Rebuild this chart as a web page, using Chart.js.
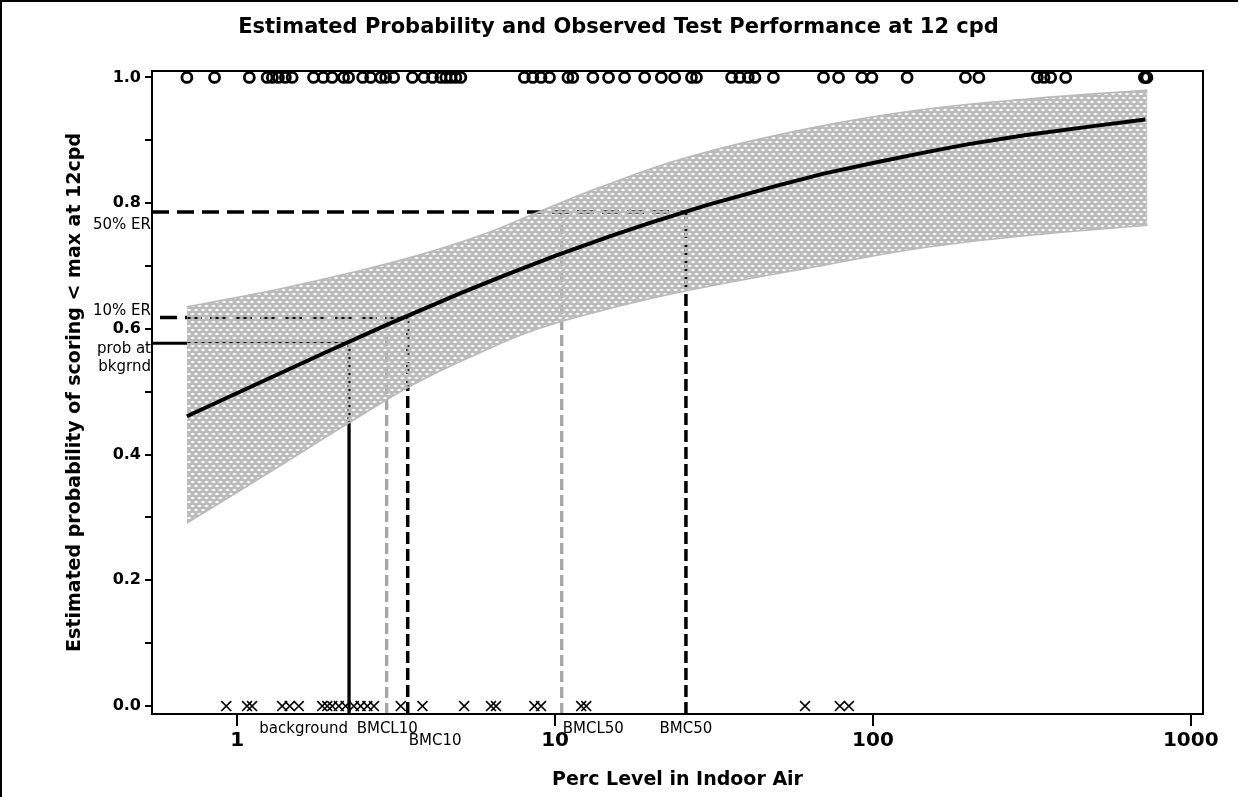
<!DOCTYPE html>
<html><head><meta charset="utf-8">
<script src="https://cdn.jsdelivr.net/npm/chart.js@4.4.0/dist/chart.umd.min.js"></script>
<style>html,body{margin:0;padding:0;background:#fff;}</style>
</head><body>
<canvas id="c" width="1239" height="797" style="display:block;width:1239px;height:797px"></canvas>
<script>
// ---------- text ----------
const TITLE = 'Estimated Probability and Observed Test Performance at 12 cpd';
const X_TITLE = 'Perc Level in Indoor Air';
const Y_TITLE = 'Estimated probability of scoring < max at 12cpd';

// ---------- ticks ----------
const xTickValues = [1, 10, 100, 1000];
const xTickLabels = ['1', '10', '100', '1000'];
const yMajorTicks = [0, 0.2, 0.4, 0.6, 0.8, 1.0];
const yTickLabels = ['0.0', '0.2', '0.4', '0.6', '0.8', '1.0'];
const yMinorTicks = [0.1, 0.3, 0.5, 0.7, 0.9];

// ---------- fitted curve ----------
const curveX = [0.694, 1, 1.5, 2, 3, 5, 7, 10, 15, 20, 30, 50, 70, 100, 150, 200, 300, 500, 720];
const curveP = [0.461, 0.498, 0.539, 0.568, 0.608, 0.656, 0.686, 0.716, 0.748, 0.769, 0.797, 0.828, 0.847, 0.864, 0.882, 0.894, 0.908, 0.923, 0.933];

// ---------- confidence band ----------
const bandX = [0.694, 1.37, 2.22, 3.59, 5.84, 8.57, 13.97, 26.1, 66.1, 143.8, 312.8, 731];
const bandUpper = [0.635, 0.664, 0.688, 0.715, 0.749, 0.783, 0.826, 0.873, 0.921, 0.949, 0.966, 0.980];
const bandLower = [0.291, 0.383, 0.449, 0.512, 0.563, 0.598, 0.629, 0.661, 0.699, 0.729, 0.749, 0.765];

// ---------- observed test outcomes ----------
const scoredBelowMaxX = [0.694, 0.848, 1.091, 1.241, 1.289, 1.347, 1.417, 1.488, 1.737, 1.864, 1.989, 2.160, 2.240, 2.480, 2.628, 2.826, 2.930, 3.105, 3.557, 3.862, 4.115, 4.369, 4.531, 4.698, 4.872, 5.052, 8.00, 8.51, 9.03, 9.60, 10.97, 11.37, 13.15, 14.73, 16.54, 19.13, 21.59, 23.78, 26.85, 27.85, 35.92, 38.14, 40.54, 42.54, 48.62, 69.91, 77.96, 92.33, 99.27, 128.1, 195.5, 215.5, 329.2, 345.6, 362.5, 404.2, 715, 722, 728];
const scoredMaxX = [0.923, 1.073, 1.113, 1.384, 1.462, 1.561, 1.850, 1.919, 1.989, 2.087, 2.191, 2.327, 2.443, 2.566, 2.691, 3.268, 3.825, 5.175, 6.284, 6.516, 8.605, 9.031, 12.08, 12.53, 61.15, 78.7, 84.0];

// ---------- benchmark values ----------
const BKG = 2.247, BMCL10 = 2.951, BMC10 = 3.437, BMCL50 = 10.49, BMC50 = 25.8;
const P_BKG = 0.577, P_ER10 = 0.618, P_ER50 = 0.786;
const X_MIN = 0.539, X_MAX = 1093, Y_MIN = -0.0127, Y_MAX = 1.0103;

const FONT = '"DejaVu Sans", "Liberation Sans", Arial, sans-serif';
Chart.defaults.font.family = FONT;
Chart.defaults.color = '#000';

const canvas = document.getElementById('c');
const ctx0 = canvas.getContext('2d');

function makeHatch() {
  const c = document.createElement('canvas');
  c.width = 7; c.height = 8;
  const g = c.getContext('2d');
  g.fillStyle = '#bababa';
  g.fillRect(0, 0, 7, 8);
  g.globalCompositeOperation = 'destination-out';
  const dia = (cx, cy) => {
    g.beginPath();
    g.moveTo(cx - 2.6, cy); g.lineTo(cx, cy - 1.3);
    g.lineTo(cx + 2.6, cy); g.lineTo(cx, cy + 1.3);
    g.closePath(); g.fill();
  };
  dia(3.5, 2); dia(0, 6); dia(7, 6);
  return ctx0.createPattern(c, 'repeat');
}
const hatch = makeHatch();

const pts = (xs, ys) => xs.map((x, i) => ({x, y: Array.isArray(ys) ? ys[i] : ys}));
const seg = (x1, y1, x2, y2) => [{x: x1, y: y1}, {x: x2, y: y2}];

const refLine = (data, color, width, dash, dashOffset) => ({
  type: 'line', data, borderColor: color, borderWidth: width,
  borderDash: dash || [], borderDashOffset: dashOffset || 0,
  pointRadius: 0, fill: false, tension: 0, order: 3, borderCapStyle: 'butt'
});

const GREY = '#a6a6a6';

const datasets = [
  // markers (top)
  {type: 'line', data: pts(scoredBelowMaxX, 1), showLine: false, pointStyle: 'circle',
   pointRadius: 5, pointBorderWidth: 2.8, pointBorderColor: '#000', pointBackgroundColor: 'rgba(0,0,0,0)',
   order: 0, clip: false},
  {type: 'line', data: pts(scoredMaxX, 0), showLine: false, pointStyle: 'crossRot',
   pointRadius: 7, pointBorderWidth: 1.6, pointBorderColor: '#000', order: 0, clip: false},
  // fitted curve
  {type: 'line', data: pts(curveX, curveP), borderColor: '#000', borderWidth: 4, pointRadius: 0,
   tension: 0, fill: false, order: 1},
  // band
  {type: 'line', data: pts(bandX, bandUpper), borderColor: '#bababa', borderWidth: 1.6, pointRadius: 0,
   tension: 0.4, fill: '+1', backgroundColor: hatch, order: 2},
  {type: 'line', data: pts(bandX, bandLower), borderColor: '#bababa', borderWidth: 1.6, pointRadius: 0,
   tension: 0.4, fill: false, order: 2},
  // reference lines (bottom)
  refLine(seg(X_MIN, P_BKG, BKG, P_BKG), '#000', 3),
  refLine(seg(BKG, Y_MIN, BKG, P_BKG), '#000', 3.3),
  refLine(seg(X_MIN, P_ER10, BMC10, P_ER10), '#000', 3.5, [17, 8], 17),
  refLine(seg(BMCL10, Y_MIN, BMCL10, P_ER10), GREY, 3.3, [11, 5]),
  refLine(seg(BMC10, Y_MIN, BMC10, P_ER10), '#000', 3.5, [12, 5]),
  refLine(seg(X_MIN, P_ER50, BMC50, P_ER50), '#000', 3.5, [17, 8]),
  refLine(seg(BMCL50, Y_MIN, BMCL50, P_ER50), GREY, 3.3, [11, 5]),
  refLine(seg(BMC50, Y_MIN, BMC50, P_ER50), '#000', 3.5, [12, 5])
];

const annot = {
  id: 'annot',
  afterDraw(chart) {
    const {ctx, chartArea: a, scales: {x, y}} = chart;
    ctx.save();
    // plot frame
    ctx.strokeStyle = '#000';
    ctx.lineWidth = 2;
    ctx.strokeRect(a.left, a.top, a.right - a.left, a.bottom - a.top);
    // outer border
    ctx.beginPath();
    ctx.moveTo(1, chart.height); ctx.lineTo(1, 1); ctx.lineTo(chart.width - 1, 1);
    ctx.stroke();

    ctx.fillStyle = '#000';
    // title
    ctx.font = 'bold 21px ' + FONT;
    ctx.textAlign = 'center';
    ctx.textBaseline = 'middle';
    ctx.fillText(TITLE, chart.width / 2 - 1, 28);

    ctx.font = '15px ' + FONT;
    const by = a.bottom + 15;
    ctx.textAlign = 'right';
    ctx.fillText('background', x.getPixelForValue(BKG) - 1, by);
    ctx.textAlign = 'left';
    ctx.fillText('BMCL10', x.getPixelForValue(BMCL10) - 30, by);
    ctx.fillText('BMC10', x.getPixelForValue(BMC10) + 1, by + 12);
    ctx.fillText('BMCL50', x.getPixelForValue(BMCL50) + 1, by);
    ctx.textAlign = 'center';
    ctx.fillText('BMC50', x.getPixelForValue(BMC50), by);

    ctx.textAlign = 'right';
    const lx = a.left - 1;
    ctx.fillText('50% ER', lx, y.getPixelForValue(P_ER50) + 13);
    ctx.fillText('10% ER', lx, y.getPixelForValue(P_ER10) - 6);
    ctx.fillText('prob at', lx, y.getPixelForValue(P_BKG) + 6);
    ctx.fillText('bkgrnd', lx, y.getPixelForValue(P_BKG) + 24);
    ctx.restore();
  }
};

new Chart(canvas, {
  type: 'line',
  data: {datasets},
  plugins: [annot],
  options: {
    responsive: false,
    devicePixelRatio: 1,
    animation: false,
    events: [],
    layout: {padding: {left: 0, right: 36, top: 71, bottom: 0}},
    plugins: {
      legend: {display: false},
      tooltip: {enabled: false},
      title: {display: false}
    },
    scales: {
      x: {
        type: 'logarithmic', min: X_MIN, max: X_MAX,
        afterFit: s => { s.height = 83; },
        afterBuildTicks: s => { s.ticks = xTickValues.map(v => ({value: v, major: true})); },
        ticks: {
          callback: (v) => { const i = xTickValues.indexOf(v); return i >= 0 ? xTickLabels[i] : ''; },
          font: {size: 20, weight: 'bold'}, color: '#000', padding: 3, maxRotation: 0, autoSkip: false
        },
        grid: {drawOnChartArea: false, drawTicks: true, tickLength: 12, color: '#000', lineWidth: 2},
        border: {display: false},
        title: {display: true, text: X_TITLE, color: '#000',
          font: {size: 19, weight: 'bold', lineHeight: 1.2}, padding: {top: 0, bottom: 6}}
      },
      y: {
        type: 'linear', min: Y_MIN, max: Y_MAX,
        afterFit: s => { s.width = 152; },
        afterBuildTicks: s => {
          s.ticks = yMajorTicks.concat(yMinorTicks).sort((p, q) => p - q).map(v => ({value: v}));
        },
        ticks: {
          callback: (v) => {
            const i = yMajorTicks.findIndex(m => Math.abs(m - v) < 1e-9);
            return i >= 0 ? yTickLabels[i] : '';
          },
          font: {size: 16, weight: 'bold'}, color: '#000', padding: 4, autoSkip: false
        },
        grid: {drawOnChartArea: false, drawTicks: true, tickLength: 7, color: '#000', lineWidth: 2},
        border: {display: false},
        title: {display: true, text: Y_TITLE, color: '#000',
          font: {size: 19, weight: 'bold', lineHeight: 1.2}, padding: {top: 64, bottom: 0}}
      }
    }
  }
});
</script>
</body></html>
